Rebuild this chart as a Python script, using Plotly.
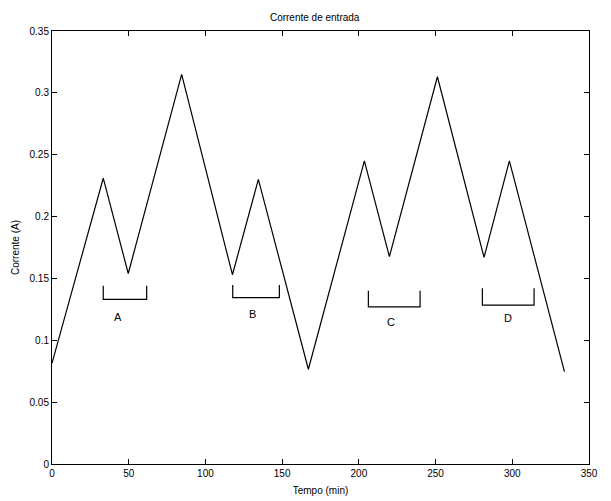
import plotly.graph_objects as go

# Main current profile (vertices of the piecewise-linear curve)
tempo = [0, 33.4, 49.7, 84.5, 117.6, 134.5, 167.1, 203.6, 219.9, 251.2, 281.6, 298.1, 334.0]
corrente = [0.0815, 0.231, 0.154, 0.315, 0.153, 0.230, 0.0766, 0.245, 0.1676, 0.313, 0.167, 0.245, 0.0746]

# Bracket markers
br_labels = ["A", "B", "C", "D"]
br_x0 = [33.4, 117.8, 206.2, 280.5]
br_x1 = [61.7, 148.2, 239.9, 314.2]
br_bottom = [0.133, 0.1345, 0.127, 0.1285]
br_top = [0.144, 0.1447, 0.1400, 0.142]
lab_x = [43.0, 130.8, 220.8, 297.0]
lab_y = [0.119, 0.121, 0.115, 0.1178]

x_ticks = [0, 50, 100, 150, 200, 250, 300, 350]
y_ticks = [0, 0.05, 0.1, 0.15, 0.2, 0.25, 0.3, 0.35]

fig = go.Figure()
fig.add_trace(go.Scatter(x=tempo, y=corrente, mode="lines",
                         line=dict(color="black", width=1.2), showlegend=False,
                         hoverinfo="skip"))

for i in range(len(br_labels)):
    fig.add_trace(go.Scatter(
        x=[br_x0[i], br_x0[i], br_x1[i], br_x1[i]],
        y=[br_top[i], br_bottom[i], br_bottom[i], br_top[i]],
        mode="lines", line=dict(color="black", width=1.2), showlegend=False,
        hoverinfo="skip"))
    fig.add_annotation(x=lab_x[i], y=lab_y[i], text=br_labels[i], showarrow=False,
                       font=dict(family="Liberation Sans, Arial", size=11, color="black"))

axis_common = dict(showline=True, linecolor="black", linewidth=1, mirror="ticks",
                   ticks="inside", ticklen=5, tickcolor="black", showgrid=False,
                   zeroline=False, automargin=False,
                   tickfont=dict(family="Liberation Sans, Arial", size=10, color="black"))

fig.update_layout(
    width=611, height=501,
    margin=dict(l=52, r=22, t=31, b=37),
    paper_bgcolor="white", plot_bgcolor="white",
    title=dict(text="Corrente de entrada", x=0.515, xanchor="center", y=0.966, yanchor="middle",
               font=dict(family="Liberation Sans, Arial", size=10, color="black")),
    xaxis=dict(range=[0, 350], tickvals=x_ticks, ticktext=[str(v) for v in x_ticks],
               title=dict(text="Tempo (min)", standoff=8,
                          font=dict(family="Liberation Sans, Arial", size=10, color="black")),
               **axis_common),
    yaxis=dict(range=[0, 0.35], tickvals=y_ticks, ticktext=[f"{v:g}" for v in y_ticks],
               title=dict(text="Corrente (A)", standoff=8,
                          font=dict(family="Liberation Sans, Arial", size=10, color="black")),
               **axis_common),
)

fig.write_html("out.html")
